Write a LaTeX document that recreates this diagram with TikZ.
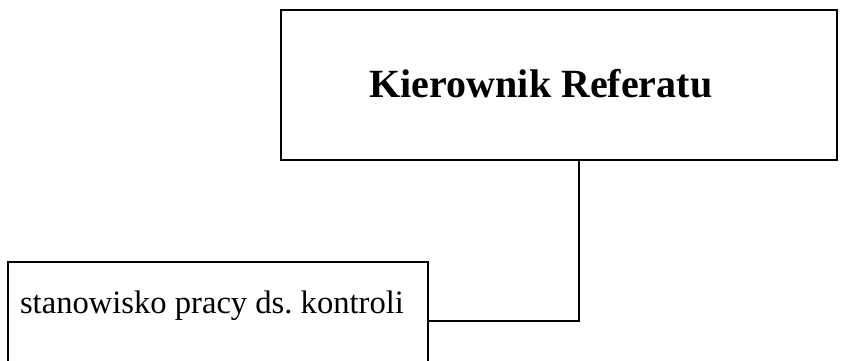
\documentclass[tikz,border=0pt]{standalone}
\usepackage{fontspec}
\setmainfont{Liberation Serif}
\frenchspacing
\begin{document}
\begin{tikzpicture}[x=1pt,y=-1pt,
  headbox/.style={draw,line width=2.8pt,minimum width=556pt,minimum height=150pt,inner sep=0pt},
  postbox/.style={draw,line width=1.4pt,minimum width=420pt,minimum height=110pt,inner sep=0pt},
  headtext/.style={font=\fontsize{40}{46}\selectfont\bfseries},
  posttext/.style={font=\fontsize{32.6}{38}\selectfont},
  link/.style={line width=1.4pt}]
\clip (0,0) rectangle (841,361);
\fill[white] (0,0) rectangle (841,361);
\node[headbox] (head) at (559,85) {};
\node[headtext] (headtxt) at (541,84) {Kierownik Referatu};
\node[postbox] (post) at (218,317) {};
\node[posttext] (posttxt) at (212,306) {stanowisko pracy ds. kontroli};
\coordinate (bend) at (579,321);
\draw[link] (head.south -| bend) -- (bend) -- (post.east |- bend);
\end{tikzpicture}
\end{document}
